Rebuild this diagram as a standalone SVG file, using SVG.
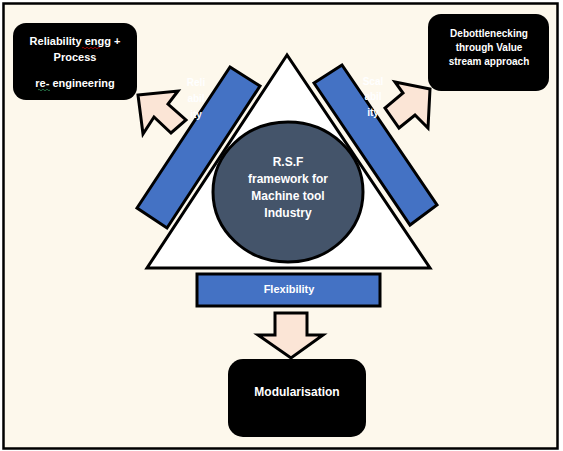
<svg xmlns="http://www.w3.org/2000/svg" width="563" height="451" viewBox="0 0 563 451">
<style>
.bx{fill:#000;}
.bar{fill:#4472C4;stroke:#000;stroke-width:3;stroke-linejoin:miter;}
.arr{fill:#FBE5D6;stroke:#000;stroke-width:3;stroke-linejoin:miter;}
.t{font-family:"Liberation Sans",Arial,sans-serif;font-weight:bold;fill:#fff;text-anchor:middle;}
</style>
<rect x="0" y="0" width="563" height="451" fill="#fff"/>
<rect x="3.5" y="3.5" width="554" height="445" fill="#FDF8EC" stroke="#000" stroke-width="2.5"/>
<g id="triangle">
<polygon points="287,55 147,268 430,268" fill="#fff" stroke="#000" stroke-width="3"/>
</g>
<g id="reliability-bar">
<polygon class="bar" points="230,67 260,86 167,228 137,208"/>
<text class="t" font-size="10"><tspan x="196" y="86">Reli</tspan><tspan x="196" y="102">abil</tspan><tspan x="196" y="118">ity</tspan></text>
</g>
<g id="scalability-bar">
<polygon class="bar" points="314,83 342,65 437,205 410,225"/>
<text class="t" font-size="10"><tspan x="373" y="85">Scal</tspan><tspan x="373" y="100">abil</tspan><tspan x="373" y="116">ity</tspan></text>
</g>
<g id="center">
<ellipse cx="288" cy="192" rx="75" ry="70" fill="#44546A" stroke="#000" stroke-width="3"/>
<text class="t" font-size="12"><tspan x="288" y="166">R.S.F</tspan><tspan x="288" y="183">framework for</tspan><tspan x="288" y="200">Machine tool</tspan><tspan x="288" y="217">Industry</tspan></text>
</g>
<g id="flexibility-bar">
<rect class="bar" x="197" y="274" width="183" height="32"/>
<text class="t" font-size="11" x="289" y="293">Flexibility</text>
</g>
<g id="connectors">
<polygon class="arr" points="138,95 178,91 168,104 186,120 171,133 154,117 143,134"/>
<polygon class="arr" points="430,89 395,82 403,93 385,108 399,128 415,115 428,128"/>
<polygon class="arr" points="275,313 307,313 307,335 323,335 291,358 258,335 275,335"/>
</g>
<g id="reliability-box">
<rect class="bx" x="13" y="23" width="124" height="77" rx="13"/>
<text class="t" font-size="11"><tspan x="75" y="45">Reliability engg +</tspan><tspan x="75" y="61">Process</tspan><tspan x="75" y="87">re- engineering</tspan></text>
<path d="M82,48 q1,-1.5 2,0 t2,0 t2,0 t2,0 t2,0 t2,0 t2,0 t2,0 t2,0" fill="none" stroke="#c00000" stroke-width="0.8"/>
<path d="M38,90 q1,-1.5 2,0 t2,0 t2,0 t2,0 t2,0 t2,0" fill="none" stroke="#2e8b57" stroke-width="0.8"/>
</g>
<g id="debottlenecking-box">
<rect class="bx" x="428" y="14" width="121" height="77" rx="13"/>
<text class="t" font-size="10"><tspan x="489" y="37">Debottlenecking</tspan><tspan x="489" y="51">through Value</tspan><tspan x="489" y="65">stream approach</tspan></text>
</g>
<g id="modularisation-box">
<rect class="bx" x="228" y="359" width="138" height="78" rx="15"/>
<text class="t" font-size="12" x="297" y="396">Modularisation</text>
</g>
</svg>
